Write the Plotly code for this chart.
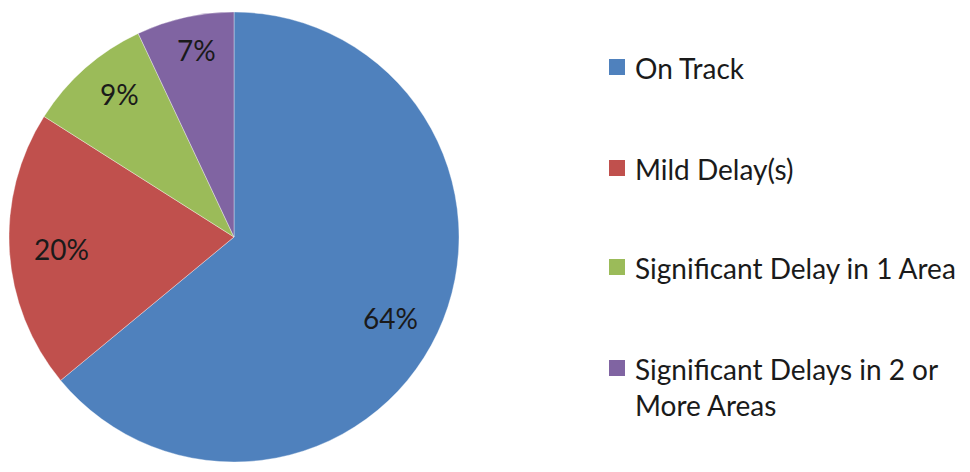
import numpy as np
import plotly.graph_objects as go

# Project status breakdown
categories = ["On Track", "Mild Delay(s)", "Significant Delay in 1 Area",
              "Significant Delays in 2 or More Areas"]
legend_labels = ["On Track", "Mild Delay(s)", "Significant Delay in 1 Area",
                 "Significant Delays in 2 or<br>More Areas"]
values = [64, 20, 9, 7]
colors = ["#4F81BD", "#C0504D", "#9BBB59", "#8064A2"]

W, H = 970, 472
FONT = "Lato"
TEXT_COLOR = "#1a1a1a"

# pie placement in pixels
cx, cy, R = 234, 237, 225

fig = go.Figure()
fig.add_trace(go.Pie(
    labels=categories,
    values=values,
    sort=False,
    direction="clockwise",
    rotation=0,
    marker=dict(colors=colors, line=dict(color="rgba(255,255,255,0.6)", width=0.6)),
    textinfo="none",
    hoverinfo="label+percent",
    showlegend=False,
    domain=dict(x=[(cx - R) / W, (cx + R) / W], y=[1 - (cy + R) / H, 1 - (cy - R) / H]),
))

# percentage labels placed along each slice's mid-angle
vals = np.array(values, dtype=float)
fracs = vals / vals.sum()
mids = np.cumsum(fracs) - fracs / 2
label_rx, label_ry = 0.77 * R, 0.85 * R
annotations = []
for f, m in zip(fracs, mids):
    ang = 2 * np.pi * m
    px = cx + label_rx * np.sin(ang)
    py = cy - label_ry * np.cos(ang)
    annotations.append(dict(
        x=px / W, y=1 - py / H, xref="paper", yref="paper",
        text=f"{round(f * 100)}%", showarrow=False,
        font=dict(family=FONT, size=28, color=TEXT_COLOR),
        xanchor="center", yanchor="middle",
    ))

# legend: colour squares with labels
shapes = []
legend_y = [67, 168, 267, 368]
sq_x0, sq_size, text_x = 609, 16, 633
for lbl, col, ly in zip(legend_labels, colors, legend_y):
    shapes.append(dict(
        type="rect", xref="paper", yref="paper",
        x0=sq_x0 / W, x1=(sq_x0 + sq_size) / W,
        y0=1 - (ly + sq_size / 2) / H, y1=1 - (ly - sq_size / 2) / H,
        fillcolor=col, line=dict(width=0),
    ))
    annotations.append(dict(
        x=text_x / W, y=1 - (ly - 18) / H, xref="paper", yref="paper",
        text=lbl, showarrow=False, align="left",
        font=dict(family=FONT, size=28, color=TEXT_COLOR),
        xanchor="left", yanchor="top",
    ))

fig.update_layout(
    width=W, height=H,
    margin=dict(l=0, r=0, t=0, b=0),
    paper_bgcolor="white",
    plot_bgcolor="white",
    annotations=annotations,
    shapes=shapes,
)

fig.write_html("out.html")
